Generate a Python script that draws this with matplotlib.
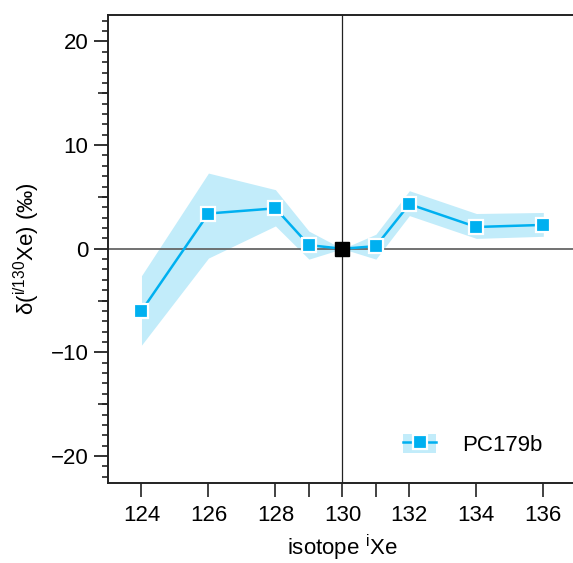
import matplotlib
matplotlib.use("Agg")
import matplotlib.pyplot as plt
from matplotlib.patches import Patch
from matplotlib.lines import Line2D
from matplotlib.ticker import MultipleLocator, FixedLocator

plt.rcParams['font.family'] = ['Liberation Sans', 'DejaVu Sans']
plt.rcParams['mathtext.fontset'] = 'custom'
plt.rcParams['mathtext.rm'] = 'Liberation Sans'

isotopes = [124, 126, 128, 129, 130, 131, 132, 134, 136]
delta = [-6.0, 3.4, 3.9, 0.35, 0.0, 0.25, 4.3, 2.1, 2.3]
upper = [-2.6, 7.3, 5.7, 1.7, 0.0, 1.4, 5.6, 3.4, 3.5]
lower = [-9.3, -0.9, 2.2, -1.0, 0.0, -1.0, 3.2, 1.0, 1.2]
ref_isotope = 130
x_tick_labels = ['124', '126', '128', '', '130', '', '132', '134', '136']
y_ticks = [-20, -10, 0, 10, 20]
y_tick_labels = ['\u221220', '\u221210', '0', '10', '20']
y_mid_ticks = [-15, -5, 5, 15]
series_name = 'PC179b'

line_col = '#00B0F0'
band_col = '#C2ECFA'

fig = plt.figure(figsize=(5.73, 5.63), dpi=100)
W, H = 573, 563
ax = fig.add_axes([108 / W, 1 - 483 / H, (576.8 - 108) / W, (483 - 14.5) / H])

ax.fill_between(isotopes, lower, upper, color=band_col, lw=0, zorder=1)
ax.axhline(0, color='#666666', lw=1.3, zorder=2)
ax.axvline(ref_isotope, color='#222222', lw=0.9, zorder=2)

xs = [x for x in isotopes if x != ref_isotope]
ys = [d for x, d in zip(isotopes, delta) if x != ref_isotope]
ax.plot(isotopes, delta, color=line_col, lw=1.8, zorder=3)
ax.plot(xs, ys, ls='none', marker='s', ms=9.5, mfc=line_col, mec='white', mew=1.6, zorder=4)
ax.plot([ref_isotope], [0], ls='none', marker='s', ms=10, mfc='black', mec='black', zorder=5)

ax.set_xlim(123, 137)
ax.set_ylim(-22.6, 22.6)

ax.xaxis.set_major_locator(FixedLocator(isotopes))
ax.set_xticklabels(x_tick_labels)
ax.set_yticks(y_ticks)
ax.set_yticklabels(y_tick_labels)
ax.yaxis.set_minor_locator(MultipleLocator(1))

ax.tick_params(axis='x', which='major', direction='out', length=10, width=1.2, labelsize=16, pad=6, color='#222222')
ax.tick_params(axis='y', which='major', direction='out', length=10, width=1.3, labelsize=16, pad=4, color='#222222')
ax.tick_params(axis='y', which='minor', direction='out', length=4, width=1.2, color='#222222')

for sp in ['left', 'bottom', 'top']:
    ax.spines[sp].set_linewidth(1.4)
    ax.spines[sp].set_color('#222222')
ax.spines['right'].set_visible(False)

# medium ticks at the 5s
ax2 = ax.secondary_yaxis('left')
ax2.set_yticks(y_mid_ticks)
ax2.tick_params(axis='y', direction='out', length=7.5, width=1.2, labelleft=False, color='#222222')
ax2.spines['left'].set_visible(False)

ax.set_xlabel('isotope $^{\\mathregular{i}}$Xe', fontsize=16, labelpad=5)
ax.set_ylabel('\u03b4($^{\\mathregular{i/130}}$Xe) (\u2030)', fontsize=16, labelpad=6)

h = (Patch(facecolor=band_col, edgecolor='none'),
     Line2D([], [], color=line_col, lw=1.8, marker='s', ms=9.5, mfc=line_col, mec='white', mew=1.6))
ax.legend([h], [series_name], loc='lower right', bbox_to_anchor=(0.97, 0.015), frameon=False,
          fontsize=16, handlelength=1.5, handletextpad=1.17, handleheight=0.95)

fig.savefig('out.png', dpi=100)
